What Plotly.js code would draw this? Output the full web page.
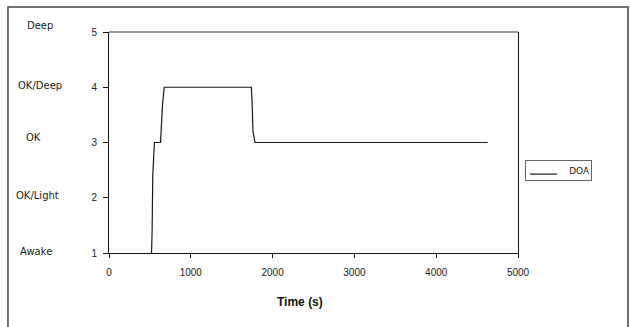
<!DOCTYPE html>
<html>
<head>
<meta charset="utf-8">
<script src="https://cdn.plot.ly/plotly-3.0.1.min.js"></script>
<style>html,body{margin:0;padding:0;background:#fff;}#chart{width:630px;height:327px;}</style>
</head>
<body>
<div id="chart"></div>
<script>
// Data
const timeS = [520, 527, 535, 545, 555, 630, 640, 655, 675, 1740, 1750, 1760, 1785, 4630];
const doa   = [1,   1.4, 2.4, 2.9, 3,   3,   3.3, 3.7, 4,   4,    3.7,  3.2,  3,    3];
const seriesName = 'DOA';
const xTicks = [0, 1000, 2000, 3000, 4000, 5000];
const yTicks = [1, 2, 3, 4, 5];
const levelLabels = ['Deep', 'OK/Deep', 'OK', 'OK/Light', 'Awake'];
const levelValues = [5, 4, 3, 2, 1];
const xTitle = 'Time (s)';

// styling (positions of the text labels)
const labelX = [-0.1687, -0.1687, -0.1834, -0.1736, -0.1785];
const labelShift = [7, 2, 5, 2, 2];

const font = {family: 'Liberation Sans, Arial, sans-serif', size: 10, color: '#222'};
const labelFont = {family: 'DejaVu Sans, sans-serif', size: 10, color: '#222'};

const annotations = levelLabels.map((t, i) => ({
  text: t, xref: 'paper', yref: 'y', x: labelX[i], y: levelValues[i],
  xanchor: 'center', yanchor: 'middle', yshift: labelShift[i], showarrow: false, font: labelFont
}));
annotations.push({
  text: '<b>' + xTitle + '</b>', xref: 'paper', yref: 'paper', x: 0.467, y: -0.22,
  xanchor: 'center', yanchor: 'middle', showarrow: false,
  font: {family: 'Liberation Sans, Arial, sans-serif', size: 12, color: '#111'}
});
// legend box (drawn as a bordered label with a line sample)
annotations.push({
  text: seriesName, xref: 'paper', yref: 'paper', x: 1.0171, y: 0.421,
  xanchor: 'left', yanchor: 'top', showarrow: false, align: 'right',
  width: 63, height: 17, borderpad: 1, borderwidth: 1, bordercolor: '#666',
  bgcolor: 'rgba(0,0,0,0)',
  font: {family: 'DejaVu Sans, sans-serif', size: 9, color: '#222'}
});

const trace = {
  x: timeS, y: doa, type: 'scatter', mode: 'lines', name: seriesName,
  line: {color: '#1a1a1a', width: 1.2}
};

const layout = {
  width: 630, height: 327,
  margin: {l: 109, r: 112, t: 32, b: 74, pad: 0},
  paper_bgcolor: '#fff', plot_bgcolor: '#fff',
  font: font,
  showlegend: false,
  xaxis: {
    range: [0, 5000], tickvals: xTicks, ticktext: xTicks.map(String),
    showgrid: false, zeroline: false, showline: true, linecolor: '#111', linewidth: 1,
    ticks: 'outside', ticklen: 4, tickcolor: '#111', mirror: false,
    ticklabelstandoff: 6, tickfont: font
  },
  yaxis: {
    range: [1, 5], tickvals: yTicks, ticktext: yTicks.map(String),
    showgrid: false, zeroline: false, showline: true, linecolor: '#111', linewidth: 1,
    ticks: 'outside', ticklen: 5, tickcolor: '#111', mirror: true,
    ticklabelstandoff: 4, tickfont: font
  },
  shapes: [
    {type: 'line', xref: 'paper', yref: 'paper', x0: 0, x1: 1, y0: 1, y1: 1,
     line: {color: '#777', width: 1.5}},
    {type: 'rect', xref: 'paper', yref: 'paper', x0: -0.247, x1: 1.269, y0: -0.6, y1: 1.113,
     line: {color: '#444', width: 1.5}},
    {type: 'line', xref: 'paper', yref: 'paper', x0: 1.0293, x1: 1.0954, y0: 0.357, y1: 0.357,
     layer: 'above', line: {color: '#1a1a1a', width: 1.2}}
  ],
  annotations: annotations
};

Plotly.newPlot('chart', [trace], layout, {displayModeBar: false, staticPlot: true});
</script>
</body>
</html>
